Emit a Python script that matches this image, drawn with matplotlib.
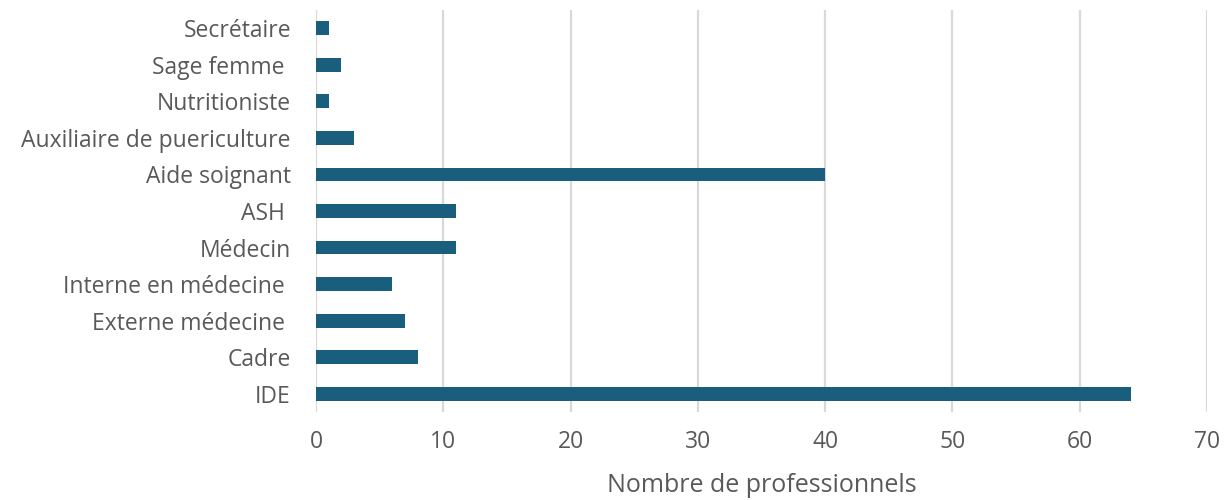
import matplotlib

matplotlib.use("Agg")
import matplotlib.pyplot as plt

# categories bottom -> top as drawn
categories = ["IDE", "Cadre", "Externe médecine ", "Interne en médecine ", "Médecin",
              "ASH ", "Aide soignant", "Auxiliaire de puericulture", "Nutritioniste",
              "Sage femme ", "Secrétaire"]
counts = [64, 8, 7, 6, 11, 11, 40, 3, 1, 2, 1]
x_ticks = [0, 10, 20, 30, 40, 50, 60, 70]

plt.rcParams["font.family"] = ["Open Sans", "DejaVu Sans"]
TXT = "#595959"

fig = plt.figure(figsize=(12.27, 5.0), dpi=100)
ax = fig.add_axes([0.2575, 0.176, 0.7262, 0.804])
ypos = range(len(categories))
ax.barh(ypos, counts, height=0.38, color="#1a5e7e", zorder=3)

ax.set_xlim(0, 70)
ax.set_ylim(-0.5, len(categories) - 0.5)
ax.set_xticks(x_ticks)
ax.set_yticks(list(ypos))
ax.set_yticklabels(categories)
ax.grid(axis="x", color="#d9d9d9", lw=1.6, zorder=0)
for s in ax.spines.values():
    s.set_visible(False)
ax.tick_params(axis="both", length=0, colors=TXT, labelsize=16.5)
ax.tick_params(axis="x", pad=13)
ax.tick_params(axis="y", pad=18)
ax.set_xlabel("Nombre de professionnels", fontsize=18, color=TXT, labelpad=14)

fig.savefig("out.png", dpi=100)
